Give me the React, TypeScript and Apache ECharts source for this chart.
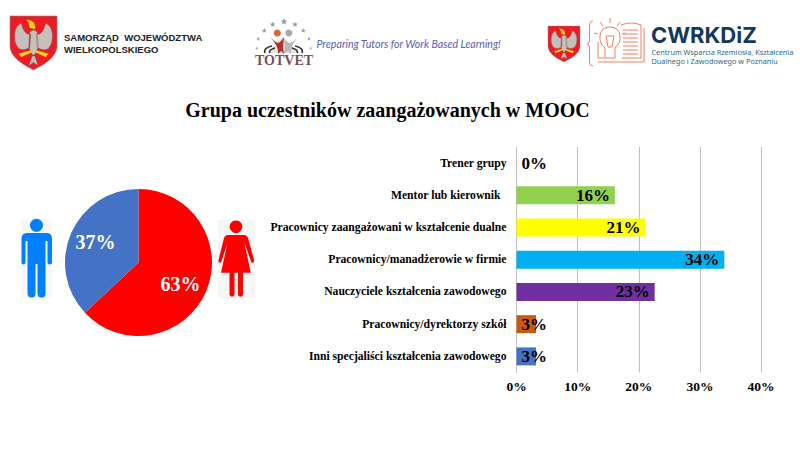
import React, { useEffect, useRef } from "react";
import * as echarts from "echarts";

const titleText = "Grupa uczestników zaangażowanych w MOOC";
const genderNames = ["Kobiety", "Mężczyźni"];
const genderValues = [63, 37];
const genderColors = ["#ff0000", "#4472c4"];
const categories = [
  "Trener grupy",
  "Mentor lub kierownik",
  "Pracownicy zaangażowani w kształcenie dualne",
  "Pracownicy/manadżerowie w firmie",
  "Nauczyciele kształcenia zawodowego",
  "Pracownicy/dyrektorzy szkół",
  "Inni specjaliści kształcenia zawodowego",
];
const shares = [0, 16.1, 21.1, 34, 22.6, 3.2, 3.2];
const barColors = ["#a5a5a5", "#92d050", "#ffff00", "#00b0f0", "#7030a0", "#c55a11", "#4472c4"];
const xTicks = [0, 10, 20, 30, 40];
const SERIF = "'Liberation Serif', serif";

const shieldD = "M0 0 L100 0 L100 58 Q98 80 50 100 Q2 80 0 58 Z";
const wingsD =
  "M44 34 Q30 36 24 13 Q12 18 10 32 Q8 50 18 60 Q30 66 42 58 Z M56 34 Q70 36 76 13 Q88 18 90 32 Q92 50 82 60 Q70 66 58 58 Z M42 30 Q50 22 58 30 L60 58 Q55 68 52 72 L48 72 Q45 68 40 58 Z M47 74 L53 74 L60 92 L50 86 L40 92 Z";
const beakD =
  "M42 22 Q40 10 34 7 Q46 6 52 14 L54 24 Z M18 70 L46 63 L47 67 L24 76 Z M82 70 L54 63 L53 67 L76 76 Z";
const manD =
  "M27 233 L47 233 Q52 233 52 239 L52 263 Q49.7 266 47.5 263 L47.5 241 L45.5 241 L45.5 293 Q45.5 297.5 41.5 297.5 Q37.5 297.5 37.5 293 L37.5 264 L35.5 264 L35.5 293 Q35.5 297.5 31.5 297.5 Q27.5 297.5 27.5 293 L27.5 241 L25.5 241 L25.5 263 Q23.5 266 21.5 263 L21.5 239 Q21.5 233 27 233 Z";
const womanD =
  "M228 235 L244 235 Q247 235 248 238 L254 260 Q254.5 263.5 251.5 262.5 L244.5 243 L250.7 272.7 L243 272.7 L243 295 Q240.5 298.5 238 295 L238 272.7 L234.5 272.7 L234.5 295 Q232 298.5 229.5 295 L229.5 272.7 L221 272.7 L227.5 243 L221 262.5 Q218 263.5 218.5 260 L224 238 Q225 235 228 235 Z";
const bookD =
  "M593 21 Q589.5 21 589.5 25 L589.5 40 Q589.5 44 587 44 Q589.5 44 589.5 48 L589.5 62 Q589.5 66 593 66 M621 25 Q632 21 641 25 L641 58 L622 58 M644 28 L644 62 L598 62 M598 42 L598 58 L604 58 M623 30 L638 30 M623 34 L638 34 M623 38 L638 38 M623 42 L638 42 M623 46 L638 46 M623 50 L638 50 M623 54 L638 54 M605 48 L605 58 L615 58 L615 48 Q621 43 620 36 Q619 27 610 27 Q601 27 600 36 Q599 43 605 48 M606 36 L614 36 L612 47 L608 47 Z M610 18 L610 23 M600 22 L603 26 M620 22 L617 26 M594 33 L598 34 M626 33 L622 34";
const floorD = "M283 37 L300 53 L266 53 Z";
const figRedD =
  "M270 37 Q275 42 278 43 Q281 42 284 37 L283 47 L284 54 L281 51 L278 54 Q279 46 270 37 Z";
const figGreyD =
  "M298 37 Q294 42 289 43 Q286 42 284 38 L285 47 L284 54 L288 51 L291 54 Q290 46 298 37 Z";
const arcsD =
  "M272 46 Q263 48 265 53 M275 48 Q268 50 270 53 M295 46 Q304 48 302 53 M292 48 Q299 50 297 53";

echarts.graphic.registerShape("shieldPath", echarts.graphic.extendPath(shieldD, {}));
echarts.graphic.registerShape("wingsPath", echarts.graphic.extendPath(wingsD, {}));
echarts.graphic.registerShape("beakPath", echarts.graphic.extendPath(beakD, {}));
echarts.graphic.registerShape("manPath", echarts.graphic.extendPath(manD, {}));
echarts.graphic.registerShape("womanPath", echarts.graphic.extendPath(womanD, {}));
echarts.graphic.registerShape("bookPath", echarts.graphic.extendPath(bookD, {}));
echarts.graphic.registerShape("floorPath", echarts.graphic.extendPath(floorD, {}));
echarts.graphic.registerShape("figRedPath", echarts.graphic.extendPath(figRedD, {}));
echarts.graphic.registerShape("figGreyPath", echarts.graphic.extendPath(figGreyD, {}));
echarts.graphic.registerShape("arcsPath", echarts.graphic.extendPath(arcsD, {}));

const coat = (x: number, y: number, sx: number, sy: number) => [
  { type: "shieldPath", x, y, scaleX: sx, scaleY: sy, style: { fill: "#ed1c24", stroke: "#8a8a8a", lineWidth: 1.2 } },
  { type: "wingsPath", x, y, scaleX: sx, scaleY: sy, style: { fill: "#c9bfba", stroke: "#5f524d", lineWidth: 0.8 } },
  { type: "beakPath", x, y, scaleX: sx, scaleY: sy, style: { fill: "#f2d21b" } },
];

const star = (cx: number, cy: number, r: number) => ({
  type: "polygon",
  shape: {
    points: Array.from({ length: 10 }, (_, i) => {
      const a = (i * Math.PI) / 5 - Math.PI / 2;
      const rr = i % 2 ? r * 0.42 : r;
      return [cx + rr * Math.cos(a), cy + rr * Math.sin(a)];
    }),
  },
  style: { fill: "#9a9a9a" },
});
const totvetStars = [
  [284, 21.7, 3.6], [272.7, 24.5, 3], [295, 24.5, 3], [264.3, 30.7, 2.6], [303.3, 30.7, 2.6],
  [258.3, 39, 2], [309, 39, 2], [256.7, 48.3, 1.6], [310.7, 48.3, 1.6],
];

const label = (text: string, x: number, y: number, fontSize: number, fill: string, extra: any = {}) => ({
  type: "text",
  style: { text, x, y, fontSize, fill, textVerticalAlign: "middle", ...extra },
});

const graphics: any[] = [
  ...coat(10, 16, 0.47, 0.54),
  label("SAMORZĄD  WOJEWÓDZTWA", 64, 37.5, 9.5, "#222222", { fontFamily: "'Liberation Sans'", fontWeight: "bold" }),
  label("WIELKOPOLSKIEGO", 64, 49.5, 9.5, "#222222", { fontFamily: "'Liberation Sans'", fontWeight: "bold" }),
  ...totvetStars.map(([a, b, c]) => star(a, b, c)),
  { type: "floorPath", style: { fill: "#e4e4e4" } },
  { type: "figRedPath", style: { fill: "#b5302a" } },
  { type: "figGreyPath", style: { fill: "#b9b9b9" } },
  { type: "arcsPath", style: { fill: "none", stroke: "#333333", lineWidth: 1.6 } },
  { type: "circle", shape: { cx: 277.3, cy: 33, r: 3.5 }, style: { fill: "#e8622c" } },
  { type: "circle", shape: { cx: 288.8, cy: 33, r: 3.5 }, style: { fill: "#a8a8a8" } },
  label("TOTVET", 255, 60.5, 14, "#7a4d55", { fontFamily: SERIF, fontWeight: "bold" }),
  label("Preparing Tutors for Work Based Learning!", 316.5, 43.5, 10.6, "#5560b8", { fontFamily: "Lato", fontStyle: "italic" }),
  ...coat(548, 26, 0.32, 0.36),
  { type: "bookPath", style: { fill: "none", stroke: "#f47c62", lineWidth: 1 } },
  label("CWRKDiZ", 651, 34.5, 22, "#123a5c", { fontFamily: "Inter", fontWeight: "bold" }),
  label("Centrum Wsparcia Rzemiosła, Kształcenia", 651.5, 52, 7.3, "#2f6a85", { fontFamily: "'Noto Sans'" }),
  label("Dualnego i Zawodowego w Poznaniu", 651.5, 61, 7.3, "#2f6a85", { fontFamily: "'Noto Sans'" }),
  { type: "rect", shape: { x: 21.5, y: 219, width: 30.5, height: 79 }, style: { fill: "#f7f7f7" } },
  { type: "rect", shape: { x: 218, y: 220, width: 37, height: 78 }, style: { fill: "#f7f7f7" } },
  { type: "manPath", style: { fill: "#0080ff" } },
  { type: "circle", shape: { cx: 36.5, cy: 225.3, r: 6.5 }, style: { fill: "#0080ff" } },
  { type: "womanPath", style: { fill: "#ff0000" } },
  { type: "circle", shape: { cx: 236, cy: 226.7, r: 6.3 }, style: { fill: "#ff0000" } },
];

export default function App() {
  const ref = useRef<HTMLDivElement>(null);
  useEffect(() => {
    document.body.style.margin = "0";
    const chart = echarts.init(ref.current!, undefined, { renderer: "svg" });
    chart.setOption({
      animation: false,
      backgroundColor: "#ffffff",
      title: {
        text: titleText,
        left: 382.5,
        top: 95,
        textAlign: "center",
        textStyle: { fontFamily: SERIF, fontWeight: "bold", fontSize: 20, color: "#000000" },
      },
      graphic: { elements: graphics },
      grid: { left: 516.5, right: 39, top: 147, height: 225.5 },
      xAxis: {
        type: "value",
        min: xTicks[0],
        max: xTicks[xTicks.length - 1],
        interval: xTicks[1] - xTicks[0],
        axisLine: { show: false },
        axisTick: { show: false },
        splitLine: { show: true, lineStyle: { color: "#bfbfbf", width: 1 } },
        axisLabel: {
          formatter: "{value}%",
          fontFamily: SERIF,
          fontWeight: "bold",
          fontSize: 13.5,
          color: "#000000",
          margin: 7,
        },
      },
      yAxis: {
        type: "category",
        inverse: true,
        data: categories.map((value, i) =>
          i === 1 ? { value, textStyle: { padding: [0, 6, 0, 0] } } : value,
        ),
        axisTick: { show: false },
        axisLine: { show: true, lineStyle: { color: "#bfbfbf", width: 1 } },
        axisLabel: { fontFamily: SERIF, fontWeight: "bold", fontSize: 11.65, color: "#000000", margin: 10 },
      },
      series: [
        {
          type: "bar",
          barWidth: 18,
          data: shares.map((value, i) => ({
            value,
            itemStyle: { color: barColors[i] },
            label: { position: value < 5 ? "insideLeft" : "insideRight" },
          })),
          label: {
            show: true,
            distance: 5,
            formatter: (p: any) => `${Math.round(p.value)}%`,
            fontFamily: SERIF,
            fontWeight: "bold",
            fontSize: 17,
            color: "#000000",
          },
        },
        {
          type: "pie",
          center: [138.5, 262.5],
          radius: 73.5,
          startAngle: 90,
          clockwise: true,
          data: genderNames.map((name, i) => ({ name, value: genderValues[i], itemStyle: { color: genderColors[i] } })),
          label: {
            show: true,
            position: "inside",
            formatter: "{c}%",
            fontFamily: SERIF,
            fontWeight: "bold",
            fontSize: 20,
            color: "#ffffff",
          },
          labelLine: { show: false },
          labelLayout: (p: any) => (p.dataIndex === 0 ? { dx: 5.5, dy: 6 } : { dx: -6.5, dy: -5 }),
        },
      ],
    });
    return () => chart.dispose();
  }, []);
  return <div ref={ref} style={{ position: "absolute", left: 0, top: 0, width: 800, height: 450 }} />;
}
